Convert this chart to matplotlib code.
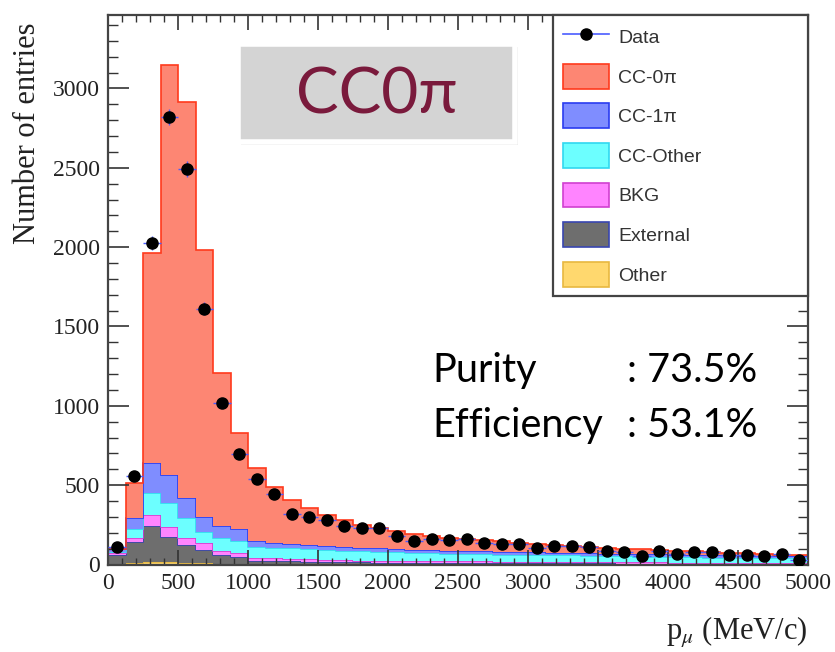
import numpy as np
import matplotlib.pyplot as plt
from matplotlib.patches import Patch, Rectangle
from matplotlib.lines import Line2D

# bin edges (MeV/c), 40 bins of 125
edges = np.arange(0, 5001, 125)
centers = 0.5 * (edges[:-1] + edges[1:])

# stacked MC components, bottom -> top
other = [5, 10, 15, 15, 12, 8, 5, 4, 3, 3, 3, 3, 3, 2, 2, 2, 2, 2, 2, 2,
         2, 2, 2, 2, 2, 2, 2, 2, 1, 1, 1, 1, 1, 1, 1, 1, 1, 1, 1, 1]
external = [55, 134, 228, 160, 108, 83, 55, 46, 20, 18, 16, 14, 13, 12, 11, 10, 10, 9, 9, 8,
            8, 8, 7, 7, 7, 6, 6, 6, 6, 5, 5, 5, 5, 5, 4, 4, 4, 4, 4, 4]
bkg = [10, 23, 69, 63, 50, 43, 25, 25, 20, 17, 16, 15, 14, 13, 12, 12, 11, 11, 10, 10,
       10, 9, 9, 9, 8, 8, 8, 8, 7, 7, 7, 7, 6, 6, 6, 6, 6, 5, 5, 5]
cc_other = [10, 57, 137, 150, 121, 73, 80, 75, 70, 68, 66, 64, 62, 60, 58, 56, 54, 52, 50, 48,
            47, 46, 45, 44, 43, 42, 41, 40, 39, 38, 37, 36, 35, 34, 33, 32, 31, 30, 29, 28]
cc_1pi = [15, 69, 192, 176, 126, 94, 80, 75, 35, 30, 27, 25, 24, 23, 22, 21, 20, 20, 19, 19,
          18, 18, 17, 17, 17, 16, 16, 16, 15, 15, 15, 15, 14, 14, 14, 14, 14, 14, 14, 14]
cc_0pi = [5, 221, 1324, 2583, 2495, 1681, 960, 605, 458, 354, 278, 233, 196, 170, 145, 127, 111, 98, 90, 83,
          75, 69, 65, 59, 53, 50, 45, 40, 38, 34, 30, 26, 25, 22, 20, 17, 14, 12, 9, 6]

data = [110, 560, 2025, 2820, 2495, 1612, 1020, 695, 540, 447, 318, 302, 283, 244, 230, 232, 182, 150, 160, 152,
        158, 138, 130, 130, 105, 118, 118, 108, 82, 78, 52, 88, 68, 78, 78, 62, 62, 56, 66, 30]

labels = ['CC-0π', 'CC-1π', 'CC-Other', 'BKG', 'External', 'Other']
components = [other, external, bkg, cc_other, cc_1pi, cc_0pi]
comp_names = ['Other', 'External', 'BKG', 'CC-Other', 'CC-1π', 'CC-0π']
fills = ['#ffd86e', '#6e6e6e', '#ff84ff', '#6cffff', '#7f8dff', '#fd8673']
lines = ['#e8b840', '#3846b0', '#d040d0', '#30d8f0', '#2a3cf0', '#ff3a1c']

fig = plt.figure(figsize=(8.35, 6.52), dpi=100)
W, H = 835, 652
ax = fig.add_axes([108 / W, 1 - 564.5 / H, 700 / W, 550 / H])

base = np.zeros(len(centers))
for vals, fc, ec in zip(components, fills, lines):
    top = base + np.array(vals)
    ax.stairs(top, edges, baseline=base, fill=True, color=fc, lw=0)
    ax.stairs(top, edges, baseline=None, color=ec, lw=1.2)
    base = top

ax.errorbar(centers, data, xerr=62.5, yerr=np.sqrt(data), fmt='o', color='k',
            ms=8, ecolor='#4a5cff', elinewidth=1, capsize=0, zorder=5)

ax.set_xlim(0, 5000)
ax.set_ylim(0, 3466)
ax.set_xticks(np.arange(0, 5001, 500))
ax.set_xticks(np.arange(0, 5001, 100), minor=True)
ax.set_yticks(np.arange(0, 3001, 500))
ax.set_yticks(np.arange(0, 3401, 100), minor=True)
ax.tick_params(which='both', direction='in', top=True, right=True, colors='#333333',
               labelcolor='#222222')
ax.tick_params(axis='y', which='major', length=15, width=1.2, labelsize=17, pad=6)
ax.tick_params(axis='y', which='minor', length=7, width=1.0)
ax.tick_params(axis='x', which='major', length=11, width=1.2, labelsize=17, pad=6)
ax.tick_params(axis='x', which='minor', length=5, width=1.0)
for lab in ax.get_xticklabels() + ax.get_yticklabels():
    lab.set_family('Liberation Serif')
for spine in ax.spines.values():
    spine.set_linewidth(1.6)
    spine.set_color('#444444')

# legend
handles = [(Line2D([], [], color='#4a5cff', lw=1.2),
            Line2D([], [], marker='o', color='k', ls='none', ms=8))]
for name in labels:
    i = comp_names.index(name)
    handles.append(Patch(facecolor=fills[i], edgecolor=lines[i], lw=1.2))
leg = ax.legend(handles, ['Data'] + labels, loc='upper left',
                bbox_to_anchor=(445 / 700, 0, 255 / 700, 1.0), mode='expand',
                borderaxespad=0, fancybox=False, framealpha=1, edgecolor='#444444',
                prop={'family': 'Liberation Sans', 'size': 14},
                handlelength=2.4, handleheight=1.6, labelspacing=0.75,
                handletextpad=0.45, borderpad=0.5)
leg.get_frame().set_linewidth(1.6)
for t in leg.get_texts():
    t.set_color('#333333')

fig.text(28 / W, 1 - 22 / H, 'Number of entries', rotation=90, ha='center', va='top',
         family='Liberation Serif', fontsize=22, color='#222222')
fig.text(808 / W, 1 - 632 / H, r'p$_{\mu}$ (MeV/c)', ha='right', va='center',
         family='Liberation Serif', fontsize=22, color='#222222',
         math_fontfamily='stix')

# CC0pi label box
fig.patches.append(Rectangle((241 / W, 1 - 145 / H), 277 / W, 98 / H, transform=fig.transFigure,
                             facecolor='#c4c4c4', edgecolor='none', alpha=0.7, zorder=3))
fig.patches.append(Rectangle((238 / W, 1 - 142 / H), 277 / W, 98 / H, transform=fig.transFigure,
                             facecolor='#d4d4d4', edgecolor='white', lw=4, zorder=4))
fig.text(377 / W, 1 - 96 / H, 'CC0π', ha='center', va='center', family='Lato',
         fontsize=46, color='#7a1a3c', zorder=6)

fig.text(432 / W, 1 - 382 / H, 'Purity', ha='left', va='baseline', family='Lato',
         fontsize=28.5, color='black')
fig.text(757 / W, 1 - 382 / H, ': 73.5%', ha='right', va='baseline', family='Lato',
         fontsize=28.5, color='black')
fig.text(432 / W, 1 - 437 / H, 'Efficiency', ha='left', va='baseline', family='Lato',
         fontsize=28.5, color='black')
fig.text(757 / W, 1 - 437 / H, ': 53.1%', ha='right', va='baseline', family='Lato',
         fontsize=28.5, color='black')

fig.savefig('out.png', dpi=100)
